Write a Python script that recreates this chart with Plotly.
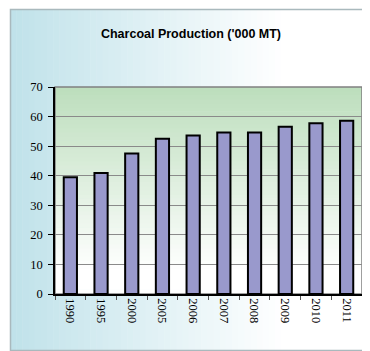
import plotly.graph_objects as go

years = ["1990", "1995", "2000", "2005", "2006", "2007", "2008", "2009", "2010", "2011"]
production = [39.5, 40.9, 47.5, 52.5, 53.6, 54.6, 54.6, 56.6, 57.7, 58.6]
y_ticks = [0, 10, 20, 30, 40, 50, 60, 70]

# page body has an 8px margin; work in reference pixel coords and offset
OFF = 8
W, H = 362, 343
L, R, T, B = 47, 8, 79, 57
pw = W - L - R
ph = H - T - B
SERIF = "Times New Roman, Liberation Serif, serif"

def px_to_paper_x(px):
    return (px - OFF - L) / pw

def px_to_paper_y(py):
    return (H - B - (py - OFF)) / ph

def lerp(c1, c2, t):
    return "rgb(%d,%d,%d)" % tuple(round(a + (b - a) * t) for a, b in zip(c1, c2))

shapes = []
# outer background horizontal gradient (light blue -> white)
x0, x1 = 10, 380
n = 60
blue = (192, 226, 234)
white = (255, 255, 255)
for i in range(n):
    a = x0 + (x1 - x0) * i / n
    b = x0 + (x1 - x0) * (i + 1) / n
    t = min(1.0, (a - x0) / 270.0)
    shapes.append(dict(type="rect", xref="paper", yref="paper",
                       x0=px_to_paper_x(a), x1=px_to_paper_x(b + 0.5),
                       y0=px_to_paper_y(350), y1=px_to_paper_y(9),
                       fillcolor=lerp(blue, white, t), line=dict(width=0), layer="below"))
# outer border
shapes.append(dict(type="rect", xref="paper", yref="paper",
                   x0=px_to_paper_x(10.5), x1=px_to_paper_x(380),
                   y0=px_to_paper_y(350.5), y1=px_to_paper_y(9.5),
                   line=dict(color="#A9B9BD", width=1.5), fillcolor="rgba(0,0,0,0)", layer="below"))
# plot area vertical gradient (green top -> white bottom)
green = (189, 222, 189)
m = 50
for i in range(m):
    a = i / m
    b = (i + 1) / m
    t = min(1.0, (1 - b) / 0.88)
    shapes.append(dict(type="rect", xref="paper", yref="paper",
                       x0=0, x1=1, y0=a, y1=min(1, b + 0.003),
                       fillcolor=lerp(green, white, t),
                       line=dict(width=0), layer="below"))
# plot border gray
shapes.append(dict(type="rect", xref="paper", yref="paper", x0=0, x1=1, y0=0, y1=1,
                   line=dict(color="#808080", width=1.5), fillcolor="rgba(0,0,0,0)", layer="below"))

fig = go.Figure(go.Bar(
    x=years, y=production,
    marker=dict(color="#9999CC", line=dict(color="black", width=2)),
))

fig.update_layout(
    width=W, height=H,
    margin=dict(l=L, r=R, t=T, b=B),
    paper_bgcolor="white",
    plot_bgcolor="rgba(0,0,0,0)",
    bargap=0.57,
    showlegend=False,
    shapes=shapes,
    title=dict(text="<b>Charcoal Production ('000 MT)</b>", x=(191 - OFF) / W, xref="container",
               xanchor="center", y=1 - (34 - OFF) / H, yref="container", yanchor="middle",
               font=dict(family="Liberation Sans", size=12.5, color="black")),
    font=dict(family=SERIF, size=12, color="black"),
)
fig.update_yaxes(range=[0, 70], tickvals=y_ticks, showgrid=True, gridcolor="#8A8A8A",
                 gridwidth=1, showline=True, linecolor="black", linewidth=1.5,
                 ticks="outside", ticklen=5, tickcolor="black", zeroline=False,
                 ticklabelstandoff=3,
                 tickfont=dict(family=SERIF, size=12.5))
fig.update_xaxes(type="category", tickangle=90, showline=True, linecolor="black",
                 linewidth=1.5, ticks="outside", ticklen=4, tickcolor="#555",
                 tickson="boundaries", showgrid=False,
                 tickfont=dict(family=SERIF, size=12.5))

fig.write_html("out.html")
